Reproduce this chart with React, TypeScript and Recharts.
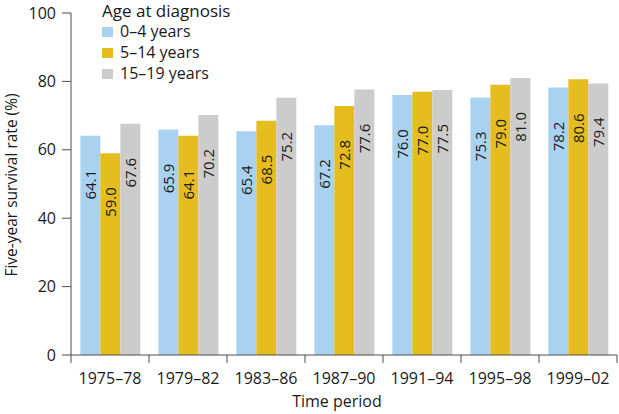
import React from 'react';
import { Bar, BarChart, LabelList, Legend, XAxis, YAxis } from 'recharts';

const periods = ['1975–78', '1979–82', '1983–86', '1987–90', '1991–94', '1995–98', '1999–02'];
const age0to4 = [64.1, 65.9, 65.4, 67.2, 76.0, 75.3, 78.2];
const age5to14 = [59.0, 64.1, 68.5, 72.8, 77.0, 79.0, 80.6];
const age15to19 = [67.6, 70.2, 75.2, 77.6, 77.5, 81.0, 79.4];
const yTicks = [0, 20, 40, 60, 80, 100];

const series = [
  { key: 'a', name: '0–4 years', color: '#a9d2f1' },
  { key: 'b', name: '5–14 years', color: '#e5bd1f' },
  { key: 'c', name: '15–19 years', color: '#cdcccc' },
];

const data = periods.map((period, i) => ({
  period,
  a: age0to4[i],
  b: age5to14[i],
  c: age15to19[i],
}));

const W = 619;
const H = 414;
const PLOT_LEFT = 71;
const PLOT_RIGHT = 617;
const PLOT_BOTTOM = 355;
const FONT = '"Open Sans", sans-serif';
const TEXT = '#1a1a1a';
const AXIS = '#4d4d4d';
const STEP = (PLOT_RIGHT - PLOT_LEFT) / periods.length;

const PeriodTick = (props: any) => {
  const { x, payload, index } = props;
  const left = x - STEP / 2;
  return (
    <g>
      <line x1={left} x2={left} y1={PLOT_BOTTOM} y2={PLOT_BOTTOM + 8} stroke={AXIS} />
      {index === periods.length - 1 && (
        <line x1={x + STEP / 2} x2={x + STEP / 2} y1={PLOT_BOTTOM} y2={PLOT_BOTTOM + 8} stroke={AXIS} />
      )}
      <text x={x} y={PLOT_BOTTOM + 29} textAnchor="middle" fill={TEXT} fontSize={16} fontFamily={FONT}>
        {payload.value}
      </text>
    </g>
  );
};

const ValueLabel = (props: any) => {
  const { x, y, width, value } = props;
  const cx = x + width / 2;
  const cy = y + 34;
  return (
    <text
      x={cx}
      y={cy}
      transform={`rotate(-90 ${cx} ${cy})`}
      textAnchor="end"
      dominantBaseline="central"
      fill={TEXT}
      fontSize={15}
      fontFamily={FONT}
    >
      {Number(value).toFixed(1)}
    </text>
  );
};

const AgeLegend = () => (
  <div style={{ fontFamily: FONT, color: TEXT }}>
    <div style={{ fontSize: 17, lineHeight: '21px' }}>Age at diagnosis</div>
    {series.map((s) => (
      <div key={s.key} style={{ display: 'flex', alignItems: 'center', fontSize: 16, lineHeight: '21px' }}>
        <span style={{ display: 'inline-block', width: 11, height: 10, background: s.color, marginRight: 7 }} />
        {s.name}
      </div>
    ))}
  </div>
);

export default function App() {
  return (
    <div style={{ position: 'absolute', left: 0, top: 0, width: W, height: H, background: '#fff' }}>
      <BarChart
        width={W}
        height={H}
        data={data}
        margin={{ top: 13, right: W - PLOT_RIGHT, bottom: 0, left: 0 }}
        barCategoryGap="12%"
        barGap={0}
      >
        <XAxis
          dataKey="period"
          height={H - PLOT_BOTTOM}
          axisLine={{ stroke: AXIS }}
          tickLine={false}
          tick={<PeriodTick />}
          interval={0}
          label={() => (
            <text x={337} y={407} textAnchor="middle" fill={TEXT} fontSize={16} fontFamily={FONT}>
              Time period
            </text>
          )}
        />
        <YAxis
          width={PLOT_LEFT}
          domain={[0, 100]}
          ticks={yTicks}
          interval={0}
          axisLine={{ stroke: AXIS }}
          tickLine={{ stroke: AXIS }}
          tickSize={9}
          tickMargin={6}
          tick={{ fill: TEXT, fontSize: 16, fontFamily: FONT }}
          label={() => (
            <text
              x={11}
              y={185}
              transform="rotate(-90 11 185)"
              textAnchor="middle"
              dominantBaseline="central"
              fill={TEXT}
              fontSize={15.5}
              fontFamily={FONT}
            >
              Five-year survival rate (%)
            </text>
          )}
        />
        <Legend
          layout="vertical"
          verticalAlign="middle"
          align="center"
          content={<AgeLegend />}
          wrapperStyle={{ position: 'absolute', top: 0, left: 102, width: 200, transform: 'none' }}
        />
        {series.map((s) => (
          <Bar key={s.key} dataKey={s.key} name={s.name} fill={s.color} isAnimationActive={false}>
            <LabelList dataKey={s.key} content={<ValueLabel />} />
          </Bar>
        ))}
      </BarChart>
    </div>
  );
}
